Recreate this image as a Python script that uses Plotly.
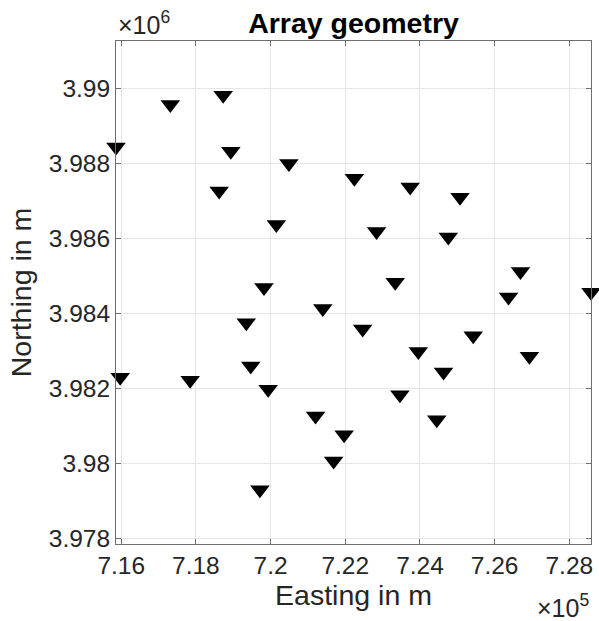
import plotly.graph_objects as go

# Station coordinates (UTM, metres)
easting = [717315, 718729, 715860, 718935, 720490, 718623, 720154, 722243, 723737,
           725072, 722838, 724759, 723337, 726691, 726371, 728580, 721398, 722465,
           725426, 723956, 726931, 724631, 723463, 724450, 719823, 719349, 719469,
           715973, 717846, 719935, 721203, 721969, 721688, 719714]
northing = [3989579, 3989825, 3988445, 3988331, 3988008, 3987272, 3986378, 3987610,
            3987378, 3987106, 3986196, 3986044, 3984838, 3985129, 3984443, 3984571,
            3984142, 3983595, 3983416, 3982995, 3982864, 3982448, 3981837, 3981172,
            3984699, 3983760, 3982608, 3982309, 3982229, 3981989, 3981276, 3980775,
            3980076, 3979307]

x_tick_vals = [716000, 718000, 720000, 722000, 724000, 726000, 728000]
x_tick_text = ["7.16", "7.18", "7.2", "7.22", "7.24", "7.26", "7.28"]
y_tick_vals = [3978000, 3980000, 3982000, 3984000, 3986000, 3988000, 3990000]
y_tick_text = ["3.978", "3.98", "3.982", "3.984", "3.986", "3.988", "3.99"]

W, H = 599, 621
ML, MR, MT, MB = 116, 6, 41, 77
pw, ph = W - ML - MR, H - MT - MB

# axis equal, tight in x
xr = [min(easting), max(easting)]
span_y = (xr[1] - xr[0]) * ph / pw
ymid = (min(northing) + max(northing)) / 2
yr = [ymid - span_y / 2, ymid + span_y / 2]

FONT = "Liberation Sans, Arial, Helvetica, sans-serif"
TXT = "#262626"
AX = "#6e6e6e"

fig = go.Figure()
fig.add_trace(go.Scatter(
    x=easting, y=northing, mode="markers",
    marker=dict(symbol="triangle-down", size=17, color="black", line=dict(width=0)),
    cliponaxis=False, showlegend=False,
))

axis_common = dict(
    showgrid=True, gridcolor="#e6e6e6", gridwidth=1,
    showline=True, linecolor=AX, linewidth=1, mirror="ticks",
    ticks="inside", ticklen=5, tickcolor=AX, tickwidth=1,
    zeroline=False,
    tickfont=dict(family=FONT, size=24.5, color=TXT),
)

fig.update_layout(
    width=W, height=H,
    margin=dict(l=ML, r=MR, t=MT, b=MB),
    paper_bgcolor="white", plot_bgcolor="white",
    title=dict(text="Array geometry", x=0.5, xref="paper", xanchor="center",
               y=1 - 23 / H, yref="container", yanchor="middle",
               font=dict(family=FONT, size=28.5, color="black", weight="bold")),
    xaxis=dict(range=xr, tickvals=x_tick_vals, ticktext=x_tick_text,
               title=dict(text="Easting in m", font=dict(family=FONT, size=28.5, color=TXT), standoff=6),
               **axis_common),
    yaxis=dict(range=yr, tickvals=y_tick_vals, ticktext=y_tick_text,
               title=dict(text="Northing in m", font=dict(family=FONT, size=28.5, color=TXT), standoff=8),
               **axis_common),
)

fig.add_annotation(text="×10<sup>6</sup>", xref="paper", yref="paper", x=0, y=1,
                   xanchor="left", yanchor="bottom", showarrow=False,
                   font=dict(family=FONT, size=25, color=TXT))
fig.add_annotation(text="×10<sup>5</sup>", xref="paper", yref="paper", x=1, y=0,
                   xanchor="right", yanchor="top", yshift=-44, showarrow=False,
                   font=dict(family=FONT, size=25, color=TXT))

fig.write_html("out.html", config={"displayModeBar": False},
               post_script="document.body.style.margin='0';")
